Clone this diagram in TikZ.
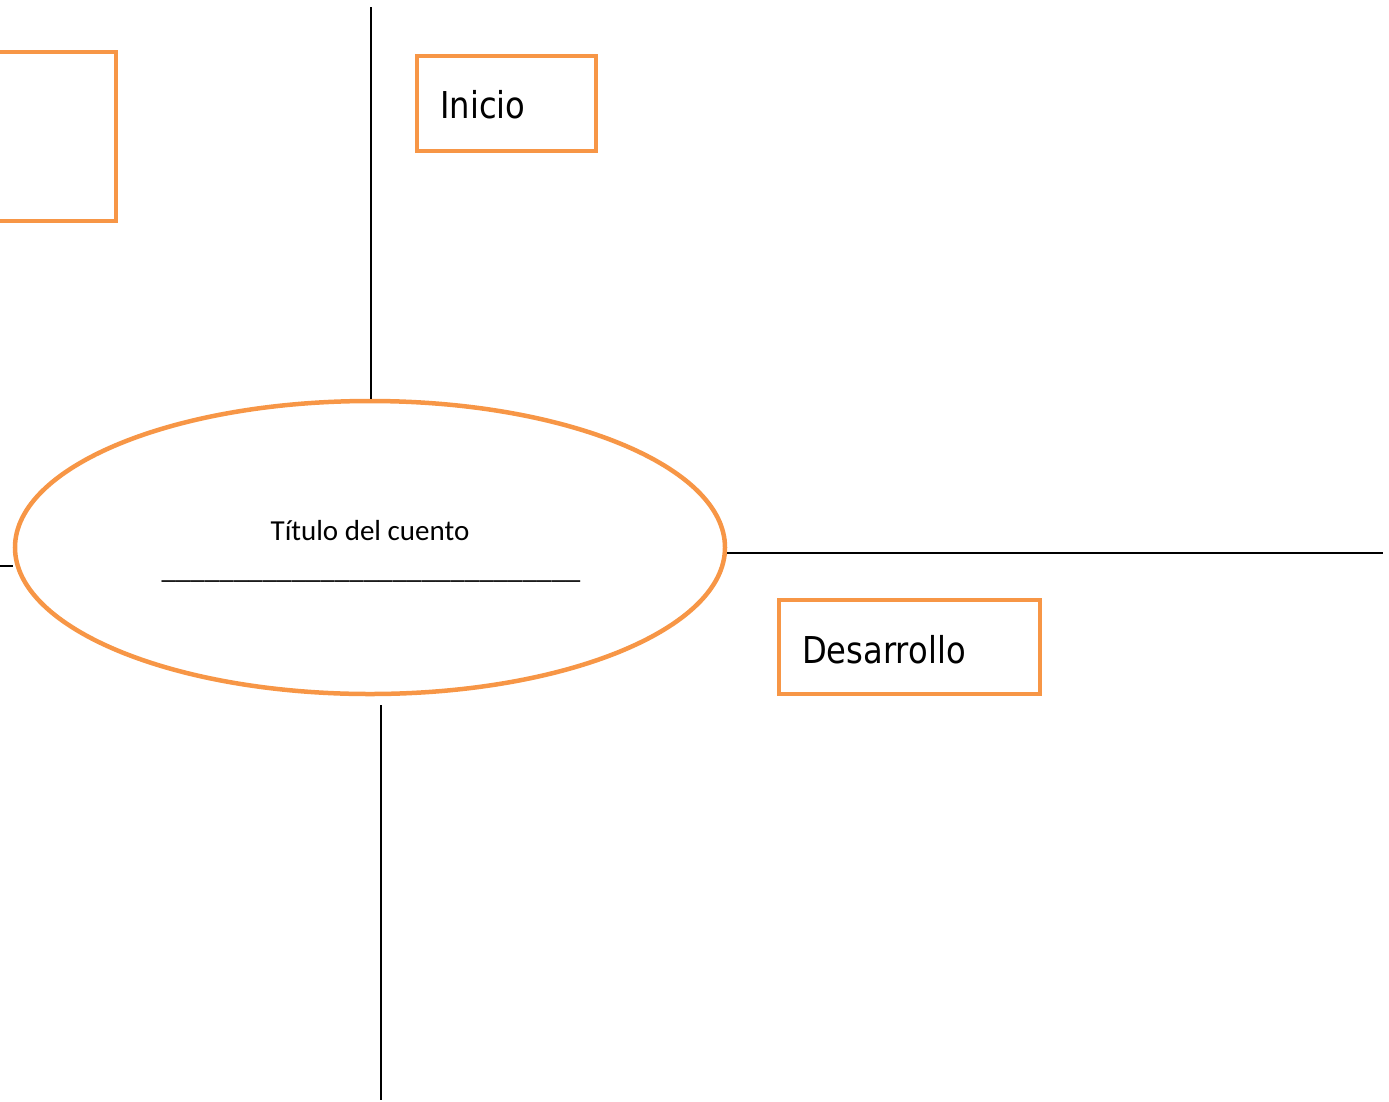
\documentclass[tikz,border=0pt]{standalone}
\usepackage{fontspec}
\setmainfont{DejaVu Sans}
\newfontfamily\titlefont{Carlito}
\usetikzlibrary{shapes.geometric}
\definecolor{accentorange}{HTML}{F79646}
\tikzset{
  partbox/.style={draw=accentorange, line width=4.5pt, minimum width=179pt, minimum height=95pt,
    inner sep=0pt},
  partlabel/.style={anchor=base west, inner sep=0pt, font=\fontsize{37}{44}\selectfont},
  axisline/.style={line width=2pt, black},
}
\begin{document}
\begin{tikzpicture}[x=1pt, y=-1pt]
        \useasboundingbox (0,0) rectangle (1389,1101);
        \begin{scope}
        \clip (0,0) rectangle (1389,1101);
        % left box, cut by the page edge
        \node [partbox, minimum width=170pt, minimum height=169pt] (endbox) at (31,136.5) {};
        \end{scope}

        \node [ellipse, draw=accentorange, line width=4.5pt, minimum width=710pt, minimum height=293pt,
          inner sep=0pt] (title) at (370,547.5) {};
        \node [font=\titlefont\fontsize{29}{34}\selectfont, anchor=base, inner sep=0pt] (titletext)
          at (370,540) {Título del cuento};
        \node [font=\titlefont\fontsize{29}{34}\selectfont, anchor=base, inner sep=0pt] (titleblank)
          at (371,578) {\_\_\_\_\_\_\_\_\_\_\_\_\_\_\_\_\_\_\_\_\_\_\_\_\_\_\_\_\_};

        \node [partbox] (startbox) at (506.5,103.5) {};
        \node [partlabel] (start) at (440,118) {\scalebox{0.87}[1]{Inicio}};

        \node [partbox, minimum width=261pt, minimum height=94pt] (middlebox) at (909.5,647) {};
        \node [partlabel] (middle) at (802,663) {\scalebox{0.87}[1]{Desarrollo}};

        \coordinate (topend) at (371,7);
        \coordinate (rightend) at (1383,553);
        \coordinate (leftend) at (0,566);
        \coordinate (bottomstart) at (381,705);
        \coordinate (bottomend) at (381,1100);

        \draw [axisline] (topend) -- (title.north -| topend);
        \draw [axisline] (title.east |- rightend) -- (rightend);
        \draw [axisline] (leftend) -- (title.west |- leftend);
        \draw [axisline] (bottomstart) -- (bottomend);
    \end{tikzpicture}
\end{document}
